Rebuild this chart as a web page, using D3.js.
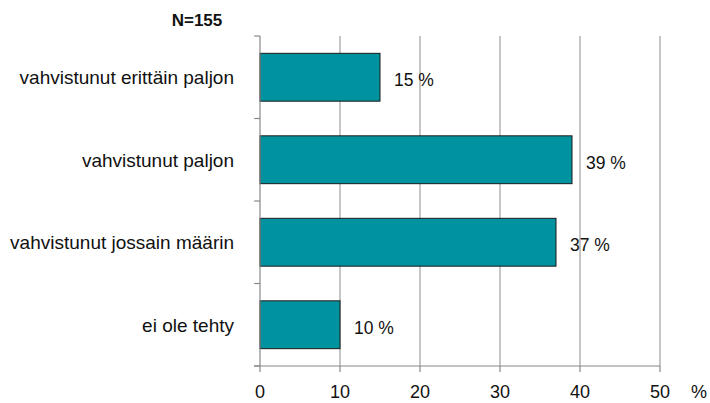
<!DOCTYPE html>
<html><head><meta charset="utf-8">
<script src="https://cdn.jsdelivr.net/npm/d3@7"></script>
<style>body{margin:0;background:#fff}svg{display:block;font-family:"Liberation Sans",Arial,Helvetica,sans-serif}</style>
</head><body><svg id="c" width="710" height="403"></svg>
<script>
const categories = ["vahvistunut erittäin paljon","vahvistunut paljon","vahvistunut jossain määrin","ei ole tehty"];
const values = [15,39,37,10];
const labels = ["15 %","39 %","37 %","10 %"];
const ticks = [0,10,20,30,40,50];
const title = "N=155";

const svg = d3.select("#c");
const x = d3.scaleLinear().domain([0,50]).range([260,660]);
const y = d3.scaleBand().domain(categories).range([36,366]).paddingInner(0.42).paddingOuter(0.21);
const yb = d3.scaleBand().domain(categories).range([36,366]);

// gridlines
svg.append("g").selectAll("line").data(ticks.slice(1)).join("line")
  .attr("x1",d=>x(d)).attr("x2",d=>x(d)).attr("y1",36).attr("y2",366)
  .attr("stroke","#a0a0a0").attr("stroke-width",1.2);

// bars
svg.append("g").selectAll("rect").data(values).join("rect")
  .attr("x",x(0)).attr("y",(d,i)=>y(categories[i]))
  .attr("width",d=>x(d)-x(0)).attr("height",y.bandwidth())
  .attr("fill","#00929f").attr("stroke","#1a1a1a").attr("stroke-width",1);

// left axis
const gl = svg.append("g");
gl.append("line").attr("x1",260).attr("x2",260).attr("y1",36).attr("y2",366).attr("stroke","#888").attr("stroke-width",1.2);
const bounds = categories.map(c=>yb(c)).concat([366]);
gl.selectAll("line.t").data(bounds).join("line").attr("class","t")
  .attr("x1",254).attr("x2",260).attr("y1",d=>d).attr("y2",d=>d).attr("stroke","#888").attr("stroke-width",1.2);

// bottom axis
const gb = svg.append("g");
gb.append("line").attr("x1",254).attr("x2",660).attr("y1",366).attr("y2",366).attr("stroke","#888").attr("stroke-width",1.2);
gb.selectAll("line.t").data(ticks).join("line").attr("class","t")
  .attr("x1",d=>x(d)).attr("x2",d=>x(d)).attr("y1",366).attr("y2",372).attr("stroke","#888").attr("stroke-width",1.2);
gb.selectAll("text").data(ticks).join("text")
  .attr("x",d=>x(d)).attr("y",398).attr("text-anchor","middle")
  .attr("font-size",18).attr("fill","#111").text(d=>d);
svg.append("text").attr("x",699).attr("y",398).attr("text-anchor","middle").attr("font-size",18).attr("fill","#111").text("%");

// category labels
svg.append("g").selectAll("text").data(categories).join("text")
  .attr("x",234).attr("y",d=>yb(d)+yb.bandwidth()/2+7).attr("text-anchor","end")
  .attr("font-size",19).attr("fill","#111").text(d=>d);

// value labels
svg.append("g").selectAll("text").data(values).join("text")
  .attr("x",d=>x(d)+14).attr("y",(d,i)=>yb(categories[i])+yb.bandwidth()/2+9)
  .attr("font-size",17.5).attr("fill","#111").text((d,i)=>labels[i]);

svg.append("text").attr("x",197).attr("y",26).attr("text-anchor","middle")
  .attr("font-size",17).attr("font-weight","bold").attr("fill","#111").text(title);
</script></body></html>
